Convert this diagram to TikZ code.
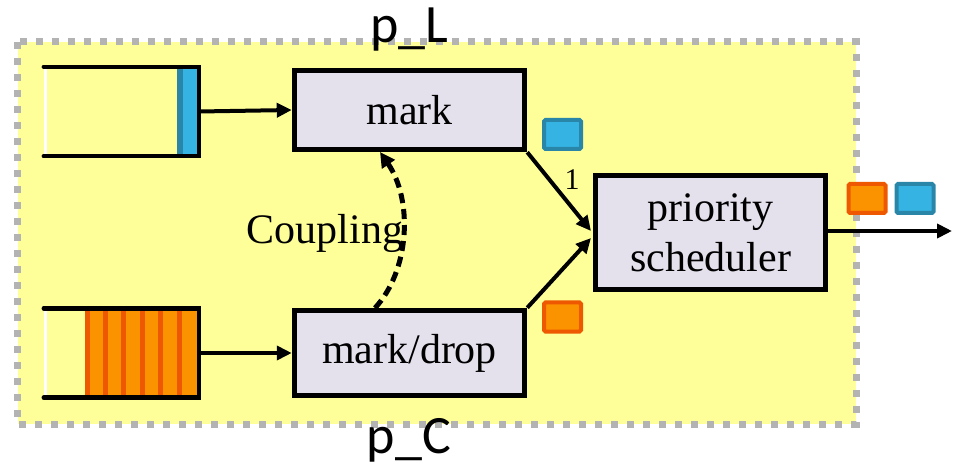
\documentclass[tikz,border=0pt]{standalone}
\usepackage{fontspec}
\setmainfont{Liberation Serif}
\newfontfamily\lblfont{Carlito}
\usetikzlibrary{arrows.meta}
\definecolor{bgyel}{HTML}{FFFF99}
\definecolor{boxlav}{HTML}{E4E0EC}
\definecolor{pblue}{HTML}{35B4E4}
\definecolor{pbluedk}{HTML}{2A86A8}
\definecolor{porange}{HTML}{FB9200}
\definecolor{porangedk}{HTML}{EE5800}
\definecolor{dotgray}{HTML}{B3B3B3}
\tikzset{
  stagebox/.style={draw=black, fill=boxlav, line width=5.5pt, minimum width=230pt, align=center,
    font=\fontsize{42}{46}\selectfont, inner sep=0pt},
  qnode/.style={draw=none, minimum width=155pt, minimum height=89pt, inner sep=0pt},
  qline/.style={line width=4.5pt, line cap=round},
  flow/.style={line width=4pt, -{Triangle[length=15pt,width=14pt]}},
  pktb/.style={draw=pbluedk, fill=pblue, line width=4pt, rounded corners=1.5pt, minimum width=37pt, minimum height=29pt, inner sep=0pt},
  pkto/.style={draw=porangedk, fill=porange, line width=4pt, rounded corners=1.5pt, minimum width=37pt, minimum height=29pt, inner sep=0pt},
  lbl/.style={font=\lblfont\fontsize{54}{58}\selectfont, anchor=base, inner sep=0pt},
}
\begin{document}
\begin{tikzpicture}[x=1pt,y=-1pt]
\useasboundingbox (0,0) rectangle (961,462);
% background region
\node[draw=none, fill=bgyel, minimum width=838pt, minimum height=382pt, inner sep=0pt] (region) at (437,233) {};
\draw[dotgray, line width=7pt, dash pattern=on 7pt off 9pt] (region.north west) rectangle (region.south east);

% queues
\node[qnode] (qL) at (121.5,111.5) {};
\node[qnode] (qC) at (121.5,353) {};
\fill[pbluedk] (177,67) rectangle (199,156);
\fill[pblue] (183,67) rectangle (199,156);
\draw[white, line width=3pt] (45.5,67) -- (45.5,156);
\draw[qline] (qL.north west) -- (qL.north east) -- (qL.south east) -- (qL.south west);
\fill[porange] (85,309) rectangle (199,397);
\foreach \sx in {85,103,121,139.5,158,177}{
  \fill[porangedk] (\sx,309) rectangle (\sx+5,397);
}
\draw[white, line width=3pt] (45.5,309) -- (45.5,397);
\draw[qline] (qC.north west) -- (qC.north east) -- (qC.south east) -- (qC.south west);

% boxes
\node[stagebox, minimum height=79pt] (mark) at (409.5,110) {mark};
\node[stagebox, minimum height=85pt] (markdrop) at (409.5,353) {mark/drop};
\node[stagebox, minimum height=114pt, font=\fontsize{42}{50}\selectfont] (sched) at (710.5,232.5) {priority\\scheduler};

% connectors
\draw[flow] (qL.east) -- (mark.west);
\draw[flow] (qC.east) -- (markdrop.west);
\coordinate (inA) at (591,231);
\coordinate (inB) at (591,238);
\draw[flow] (mark.south east) -- (inA);
\draw[flow] (markdrop.north east) -- (inB);
\coordinate (outEnd) at (952,231);
\draw[flow] (sched.east |- outEnd) -- (outEnd);

% coupling
\coordinate (cpS) at (375,308);
\coordinate (cpE) at (380,152);
\node[font=\fontsize{42}{46}\selectfont, inner sep=0pt] (coup) at (325,233) {Coupling};
\draw[line width=5pt, dash pattern=on 10pt off 6pt, -{Triangle[length=15pt,width=15pt]}]
  (cpS) .. controls (410,270) and (413,200) .. (cpE);

\node[font=\fontsize{30}{34}\selectfont, inner sep=0pt] (one) at (572,180) {1};

% packets
\node[pktb] (pk1) at (562.5,134.5) {};
\node[pkto] (pk2) at (562.5,317) {};
\node[pkto] (pk3) at (867,198.5) {};
\node[pktb] (pk4) at (915,198.5) {};

% labels
\node[lbl] (pL) at (409,43) {p\_L};
\node[lbl] (pC) at (409,453) {p\_C};
\end{tikzpicture}
\end{document}
